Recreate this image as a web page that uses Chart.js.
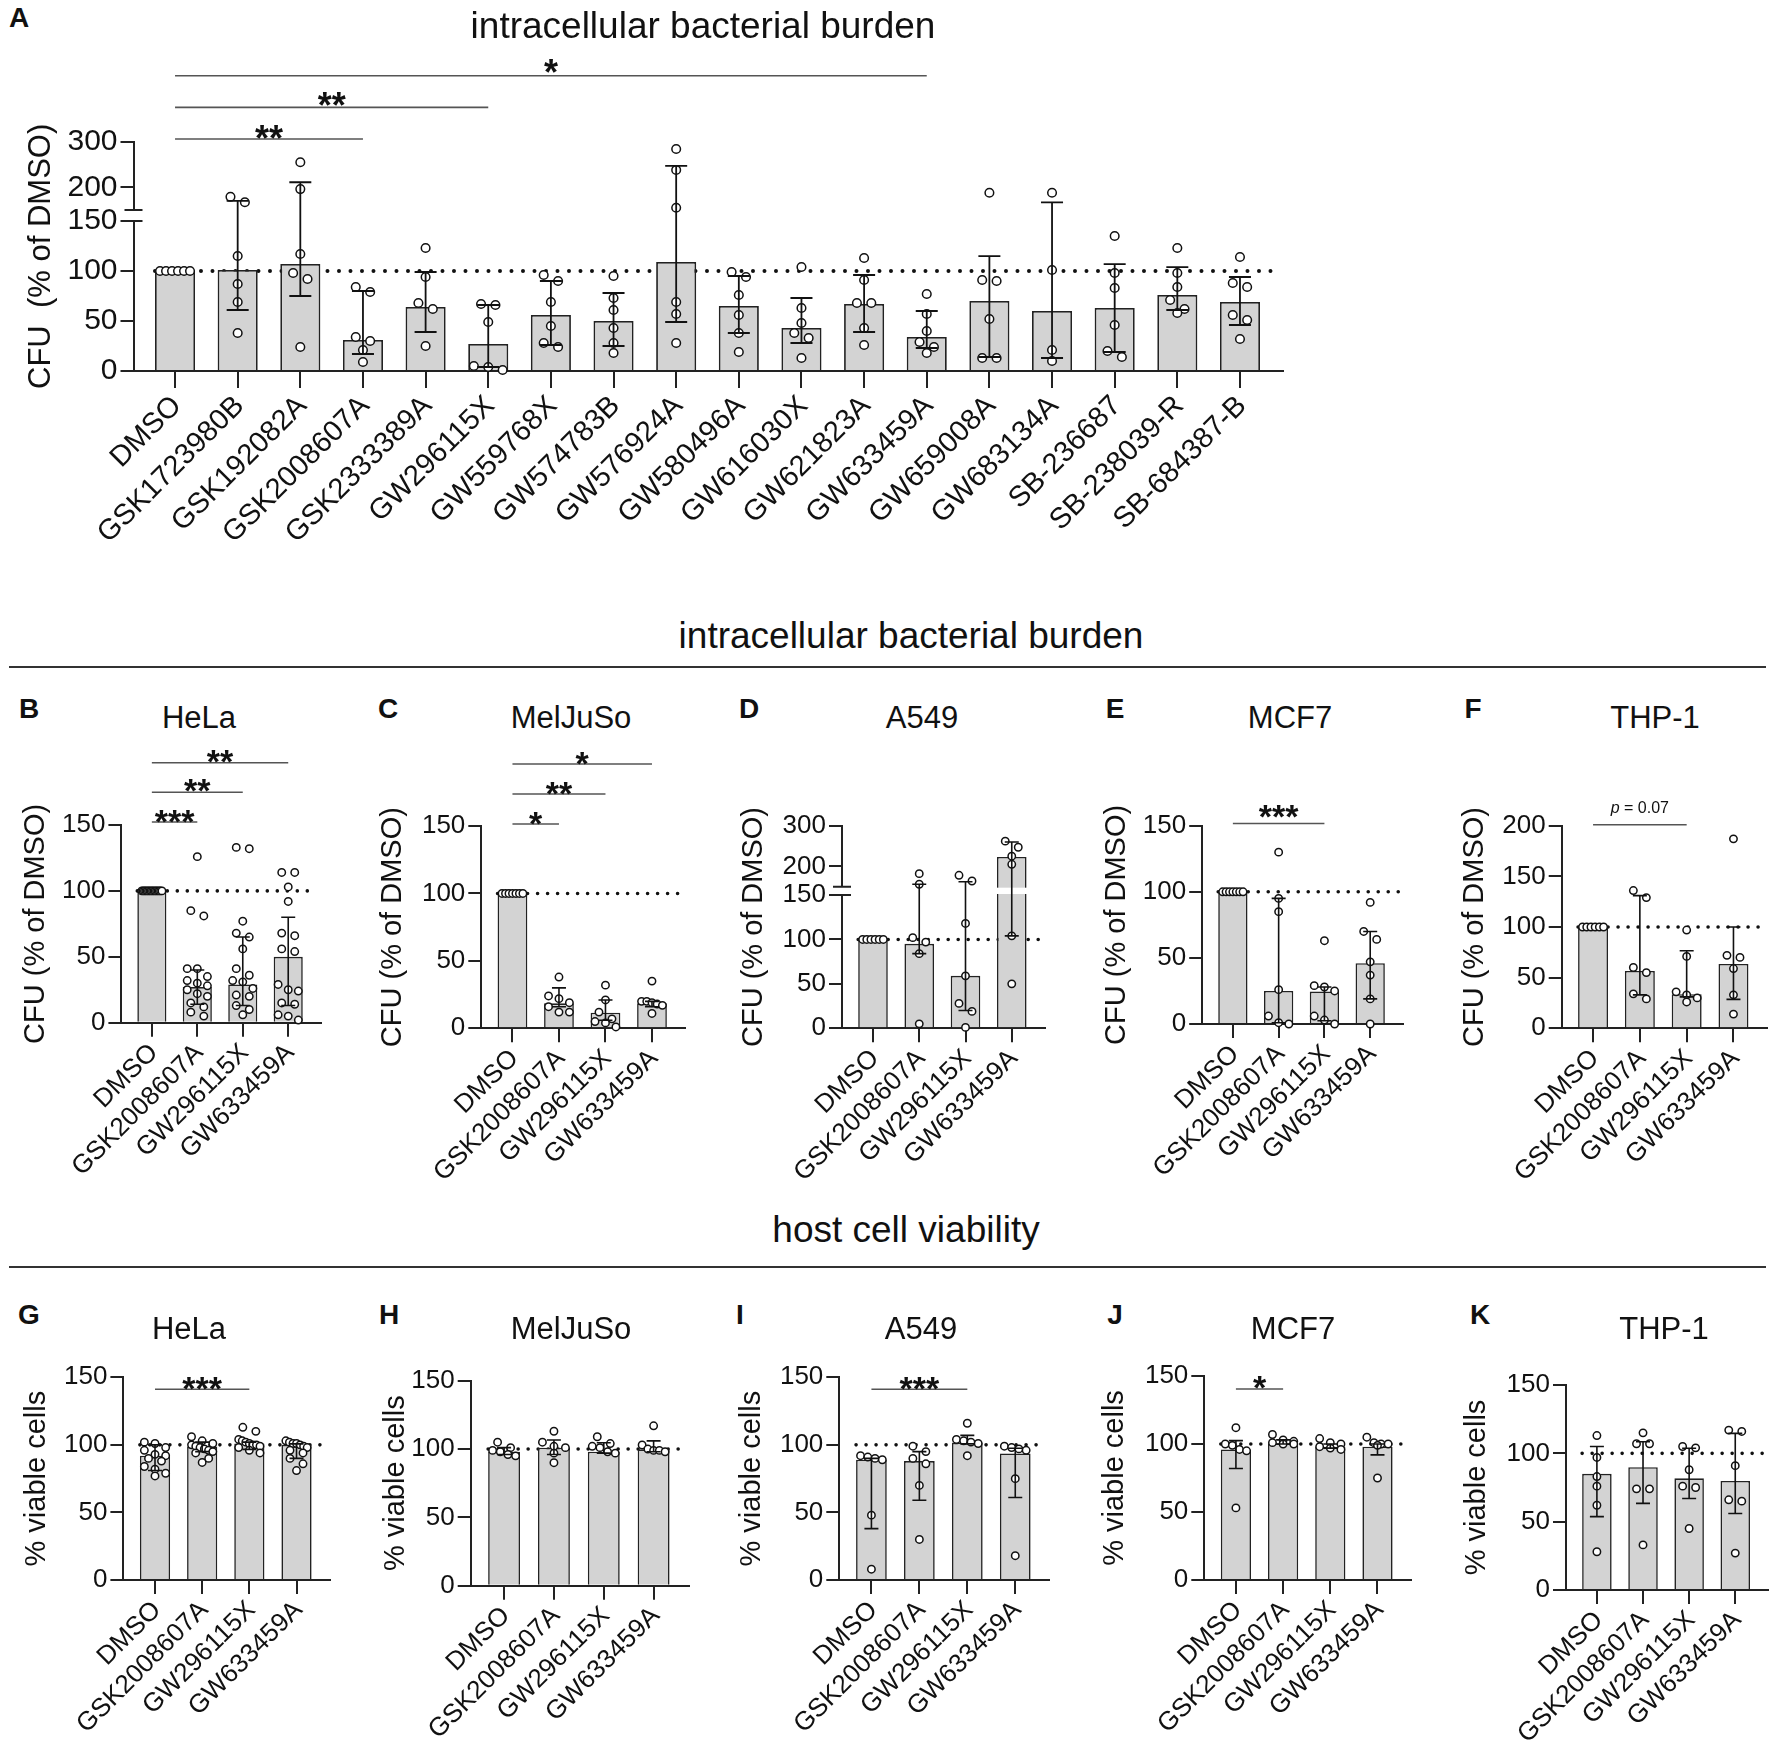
<!DOCTYPE html>
<html><head><meta charset="utf-8">
<script src="https://cdn.jsdelivr.net/npm/chart.js@4.4.1/dist/chart.umd.min.js"></script>
<style>
html,body{margin:0;padding:0;background:#fff;}
#page{position:relative;width:1772px;height:1751px;overflow:hidden;background:#fff;font-family:'Liberation Sans',Arial,Helvetica,sans-serif;color:#111;}
.t{position:absolute;transform:translate(-50%,-50%);white-space:nowrap;line-height:1;}
.rule{position:absolute;background:#333;}
canvas{position:absolute;}
</style></head><body><div id="page"></div>
<script>
// ---------------- DATA ----------------
const CATS_A = ['DMSO','GSK1723980B','GSK192082A','GSK2008607A','GSK2333389A','GW296115X','GW559768X','GW574783B','GW576924A','GW580496A','GW616030X','GW621823A','GW633459A','GW659008A','GW683134A','SB-236687','SB-238039-R','SB-684387-B'];
const CATS_CELL = ['DMSO','GSK2008607A','GW296115X','GW633459A'];

const TICKS_A = [0,50,100,150,200,300];
const TICKS_B = [0,50,100,150];
const TICKS_D = [0,50,100,150,200,300];
const TICKS_F = [0,50,100,150,200];
const TICKS_V = [0,50,100,150];

// Panel A (bars = median, whiskers = interquartile range)
const A_MED = [100,101,107,31,64,27,56,50,109,65,43,67,34,70,60,63,76,69];
const A_LO  = [100,61,75,17,39,4,26,25,49,38,28,39,23,14,13,19,61,46];
const A_HI  = [100,170,211,80,99,66,90,78,247,95,73,96,60,115,167,107,104,94];
const A_PTS = [
  [100,100,100,100,100,100],
  [179,167,115,87,69,38],
  [255,196,117,98,92,24],
  [84,79,34,30,21,9],
  [123,94,68,62,25],
  [67,66,49,5,4,1],
  [96,90,69,45,28,24],
  [95,73,61,43,28,18],
  [284,238,155,69,57,28],
  [99,94,76,56,38,19],
  [104,63,48,38,33,13],
  [113,91,68,68,43,26],
  [77,57,40,29,24,18],
  [188,91,90,52,13,13],
  [188,101,21,10],
  [135,98,83,46,20,14],
  [123,98,84,71,62,58],
  [114,88,84,56,51,32]
];

// B HeLa CFU
const B_MED = [100,27,29,50];
const B_LO  = [100,14,13,13];
const B_HI  = [100,40,65,80];
const B_PTS = [
  [100,100,100,100,100,100,100,100,100,100,100,100,100,100,100,100],
  [126,85,81,41,41,35,32,30,28,25,22,20,15,12,8,5],
  [133,132,77,68,65,56,41,36,32,31,26,21,20,13,10,6],
  [114,114,103,92,68,66,56,54,29,25,24,15,14,6,5,2]
];
// C MelJuSo CFU
const C_MED = [100,18.5,11.6,18.5];
const C_LO  = [100,16,6,16];
const C_HI  = [100,30,21,20];
const C_PTS = [
  [100,100,100,100,100,100,100],
  [38,24,22,19,16,12,12],
  [32,21,12,7,5,4,1],
  [35,20,20,19,18,17,11]
];
// D A549 CFU
const D_MED = [100,95,59,223];
const D_LO  = [100,84,20,104];
const D_HI  = [100,156,162,260];
const D_PTS = [
  [100,100,100,100,100,100],
  [182,156,102,97,84,5],
  [178,164,118,59,28,19,1],
  [262,247,225,205,104,50]
];
// E MCF7 CFU
const E_MED = [100,25,24.5,46];
const E_LO  = [100,1,2.5,19];
const E_HI  = [100,95,28,70];
const E_PTS = [
  [100,100,100,100,100,100,100],
  [130,95,85,26,6,1,0],
  [63,29,28,25,6,3,0],
  [92,70,64,47,37,19,0]
];
// F THP-1 CFU
const F_MED = [100,56.6,33.6,63.5];
const F_LO  = [100,33,31,28.6];
const F_HI  = [100,131,76.6,100];
const F_PTS = [
  [100,100,100,100,100,100],
  [136,129,60,55,34,29],
  [97,71,36,33,30,26],
  [187,72,70,59,33,14]
];
// G HeLa viability
const G_MED = [92,98.7,101,100];
const G_LO  = [81,95,96.7,90];
const G_HI  = [100,102,102,100.7];
const G_PTS = [
  [102,101,98,96,93,92,90,88,84,82,79,77],
  [106,103,101,100,99,98,97,96,95,94,90,87],
  [113,110,104,103,102,101,100,100,99,98,96,94],
  [103,102,101,101,100,99,98,96,94,90,86,81]
];
// H MelJuSo viability
const H_MED = [98,101,98,99.8];
const H_LO  = [96,96,97,98];
const H_HI  = [101,106.6,104.6,106];
const H_PTS = [
  [105,101,99,98,96,95],
  [113,105,102,101,97,90],
  [109,104,102,101,98,97],
  [117,103,100,99,99,98]
];
// I A549 viability
const I_MED = [89,88,101.7,93.7];
const I_LO  = [38,59,100.7,61];
const I_HI  = [90,95,107,97.5];
const I_PTS = [
  [92,91,90,89,48,8],
  [99,95,90,86,70,30],
  [116,104,103,102,101,92],
  [99,98,97,96,75,18]
];
// J MCF7 viability
const J_MED = [96,100.5,98,98];
const J_LO  = [82,100,97,92];
const J_HI  = [102.5,103,100,100];
const J_PTS = [
  [112,100,99,96,95,53],
  [107,103,102,101,100,100],
  [104,101,100,98,97,96],
  [105,101,100,100,99,75]
];
// K THP-1 viability
const K_MED = [85,89.8,81.7,79.8];
const K_LO  = [53.7,63.4,67,56];
const K_HI  = [105,108.5,103.7,114.6];
const K_PTS = [
  [113,97,83,76,62,28],
  [115,107,107,74,74,33],
  [105,104,88,76,75,45],
  [117,116,91,66,65,27]
];

const REF_LINE = 100;
const SIG_A = [{to:3,txt:'**'},{to:5,txt:'**'},{to:12,txt:'*'}];
const SIG_B = [{to:3,txt:'**'},{to:2,txt:'**'},{to:1,txt:'***'}];
const SIG_C = [{to:3,txt:'*'},{to:2,txt:'**'},{to:1,txt:'*'}];
const SIG_E = [{to:2,txt:'***'}];
const SIG_F = [{to:2,txt:'p = 0.07'}];
const SIG_G = [{to:2,txt:'***'}];
const SIG_I = [{to:2,txt:'***'}];
const SIG_J = [{to:1,txt:'*'}];

// ---------------- RENDERING ----------------
const FONT = "'Liberation Sans', Arial, Helvetica, sans-serif";
Chart.defaults.font.family = FONT;
Chart.defaults.color = '#111';
Chart.defaults.animation = false;

class BrokenScale extends Chart.LinearScale {
  _seg() {
    const b = this.options.brk;
    const H = this.bottom - this.top;
    const lo = H * b.lowFrac, gap = H * b.gapFrac;
    return {b: b.value, lo, gap, up: H - lo - gap};
  }
  getPixelForValue(v) {
    if (v === null || v === undefined || isNaN(v)) return NaN;
    const s = this._seg();
    if (v <= s.b) return this.bottom - (v - this.min) / (s.b - this.min) * s.lo;
    return this.bottom - s.lo - s.gap - (v - s.b) / (this.max - s.b) * s.up;
  }
  getValueForPixel(p) {
    const s = this._seg();
    const d = this.bottom - p;
    if (d <= s.lo) return this.min + d / s.lo * (s.b - this.min);
    return s.b + Math.max(0, d - s.lo - s.gap) / s.up * (this.max - s.b);
  }
}
BrokenScale.id = 'broken';
BrokenScale.defaults = {};
Chart.register(BrokenScale);

const page = document.getElementById('page');
function addText(s, x, y, size, weight) {
  const d = document.createElement('div');
  d.className = 't';
  d.textContent = s;
  d.style.left = x + 'px'; d.style.top = y + 'px';
  d.style.fontSize = size + 'px';
  if (weight) d.style.fontWeight = weight;
  page.appendChild(d);
}
function addRule(x, y, w) {
  const d = document.createElement('div');
  d.className = 'rule';
  d.style.left = x + 'px'; d.style.top = (y - 1) + 'px';
  d.style.width = w + 'px'; d.style.height = '2.2px';
  page.appendChild(d);
}

const SMALL = {yTitleFont:29, yTickFont:26, xFont:26, xShift:2, yTickLen:13, xTickLen:14, barPct:0.64, r:3.7, cap:14, starFont:34, dotW:3.6, dotGap:10, xmin:-0.67, xmax:3.71, pairGap:13, barBorder:1.6, errW:1.6};
const CFU = 'CFU (% of DMSO)', VIA = '% viable cells';

const PANELS = [
  {cats:CATS_A, med:A_MED, lo:A_LO, hi:A_HI, pts:A_PTS, ticks:TICKS_A, sig:SIG_A, yTitle:'CFU  (% of DMSO)', brk:{value:150, lowFrac:0.654, gapFrac:0.048},
   cl:0, ct:40, cr:1300, cb:580, L:133.5, R:1283, T:141.7, B:371, xmin:-0.663, xmax:17.687, ytc:41,
   yTitleFont:31, yTickFont:30, xFont:29, xShift:2, yTickLen:13, xTickLen:17, barPct:0.64, r:4.3, cap:22, starFont:36,
   sigY:[139,107.4,75.7], sigTY:[130,97.2,64.4], dotW:4, dotGap:11.5, pairGap:14.4, barBorder:1.8, errW:1.8},
  Object.assign({}, SMALL, {cats:CATS_CELL, med:B_MED, lo:B_LO, hi:B_HI, pts:B_PTS, ticks:TICKS_B, sig:SIG_B, yTitle:CFU,
   cl:0, ct:740, cr:340, cb:1200, L:121.4, R:320.5, T:825, B:1022.7, ytc:35.7, sigY:[762.7,792.3,822], sigTY:[753.3,782.7,813.3]}),
  Object.assign({}, SMALL, {cats:CATS_CELL, med:C_MED, lo:C_LO, hi:C_HI, pts:C_PTS, ticks:TICKS_B, sig:SIG_C, yTitle:CFU,
   cl:360, ct:740, cr:700, cb:1200, L:481.3, R:685, T:826, B:1028.3, ytc:393, sigY:[764,794,824], sigTY:[755,785,815]}),
  Object.assign({}, SMALL, {cats:CATS_CELL, med:D_MED, lo:D_LO, hi:D_HI, pts:D_PTS, ticks:TICKS_D, sig:[], yTitle:CFU, brk:{value:150, lowFrac:0.658, gapFrac:0.041},
   cl:720, ct:740, cr:1060, cb:1200, L:842, R:1044.6, T:825.7, B:1028.3, ytc:753.6, sigY:[], sigTY:[]}),
  Object.assign({}, SMALL, {cats:CATS_CELL, med:E_MED, lo:E_LO, hi:E_HI, pts:E_PTS, ticks:TICKS_B, sig:SIG_E, yTitle:CFU,
   cl:1080, ct:740, cr:1420, cb:1200, L:1202.2, R:1402.7, T:825.7, B:1024, ytc:1117, sigY:[823.5], sigTY:[808.3]}),
  Object.assign({}, SMALL, {cats:CATS_CELL, med:F_MED, lo:F_LO, hi:F_HI, pts:F_PTS, ticks:TICKS_F, sig:SIG_F, yTitle:CFU,
   cl:1440, ct:740, cr:1772, cb:1200, L:1561.7, R:1766.7, T:825.7, B:1028.3, ytc:1475, sigY:[824.7], sigTY:[808.3]}),
  Object.assign({}, SMALL, {cats:CATS_CELL, med:G_MED, lo:G_LO, hi:G_HI, pts:G_PTS, ticks:TICKS_V, sig:SIG_G, yTitle:VIA,
   cl:0, ct:1345, cr:345, cb:1751, L:123.4, R:330, T:1377.3, B:1580, ytc:37, sigY:[1389.3], sigTY:[1380.7]}),
  Object.assign({}, SMALL, {cats:CATS_CELL, med:H_MED, lo:H_LO, hi:H_HI, pts:H_PTS, ticks:TICKS_V, sig:[], yTitle:VIA,
   cl:355, ct:1345, cr:705, cb:1751, L:470.7, R:689, T:1380.7, B:1585.7, ytc:396, sigY:[], sigTY:[]}),
  Object.assign({}, SMALL, {cats:CATS_CELL, med:I_MED, lo:I_LO, hi:I_HI, pts:I_PTS, ticks:TICKS_V, sig:SIG_I, yTitle:VIA,
   cl:720, ct:1345, cr:1065, cb:1751, L:839.3, R:1049.3, T:1377.3, B:1580, ytc:752, sigY:[1389.3], sigTY:[1380.7]}),
  Object.assign({}, SMALL, {cats:CATS_CELL, med:J_MED, lo:J_LO, hi:J_HI, pts:J_PTS, ticks:TICKS_V, sig:SIG_J, yTitle:VIA,
   cl:1080, ct:1345, cr:1425, cb:1751, L:1204.3, R:1411, T:1376, B:1580, ytc:1115, sigY:[1389], sigTY:[1379.3]}),
  Object.assign({}, SMALL, {cats:CATS_CELL, med:K_MED, lo:K_LO, hi:K_HI, pts:K_PTS, ticks:TICKS_V, sig:[], yTitle:VIA,
   cl:1440, ct:1345, cr:1772, cb:1751, L:1566, R:1768, T:1385, B:1590, ytc:1477, sigY:[], sigTY:[]})
];

function makePanel(p) {
  const cv = document.createElement('canvas');
  const w = Math.round(p.cr - p.cl), h = Math.round(p.cb - p.ct);
  cv.width = w; cv.height = h;
  cv.style.left = p.cl + 'px'; cv.style.top = p.ct + 'px';
  cv.style.width = w + 'px'; cv.style.height = h + 'px';
  page.appendChild(cv);

  const deco = {
    id: 'deco',
    beforeDatasetsDraw(chart) {
      const ctx = chart.ctx, ys = chart.scales.y;
      const bars = chart.getDatasetMeta(0).data;
      // dotted reference line (behind bars)
      const y = ys.getPixelForValue(REF_LINE);
      ctx.save();
      ctx.strokeStyle = '#111'; ctx.lineWidth = p.dotW; ctx.lineCap = 'round';
      ctx.setLineDash([0, p.dotGap]);
      ctx.beginPath();
      ctx.moveTo(bars[0].x - bars[0].width / 2, y);
      ctx.lineTo(chart.chartArea.right - 4, y);
      ctx.stroke();
      ctx.restore();
      // spread overlapping points horizontally
      const pm = chart.getDatasetMeta(1);
      const raw = chart.data.datasets[1].data;
      const groups = {};
      pm.data.forEach((el, k) => {
        if (el.$ox === undefined) el.$ox = el.x;
        (groups[raw[k].x] = groups[raw[k].x] || []).push(el);
      });
      const d = 2 * p.r + 1.5;
      Object.keys(groups).forEach(ci => {
        const els = groups[ci];
        const bw = bars[ci].width;
        els.sort((a, b) => a.y - b.y);
        let i = 0;
        while (i < els.length) {
          let j = i + 1;
          while (j < els.length && els[j].y - els[i].y < d * 0.9) j++;
          const k = j - i;
          const s = k > 1 ? Math.min(p.pairGap, (bw - d) / (k - 1)) : 0;
          for (let m = 0; m < k; m++) els[i + m].x = els[i + m].$ox + (m - (k - 1) / 2) * s;
          i = j;
        }
      });
    },
    afterDatasetDraw(chart, args) {
      if (args.index !== 0 || !p.brk) return;
      // white gap through bars that cross the axis break
      const ctx = chart.ctx, ys = chart.scales.y;
      const s = ys._seg();
      const yTop = ys.bottom - s.lo - s.gap, yBot = ys.bottom - s.lo;
      const bars = chart.getDatasetMeta(0).data;
      ctx.save();
      ctx.fillStyle = '#fff';
      p.med.forEach((m, i) => {
        if (m > p.brk.value) {
          const b = bars[i];
          ctx.fillRect(b.x - b.width / 2 - 2, yTop + 1, b.width + 4, yBot - yTop - 2);
        }
      });
      ctx.restore();
    },
    afterDatasetsDraw(chart) {
      const ctx = chart.ctx, xs = chart.scales.x, ys = chart.scales.y;
      ctx.save();
      // median + interquartile range whiskers
      ctx.strokeStyle = '#111'; ctx.lineWidth = p.errW;
      p.med.forEach((m, i) => {
        const lo = p.lo[i], hi = p.hi[i];
        if (lo === hi) return;
        const x = xs.getPixelForValue(i);
        const yl = ys.getPixelForValue(lo), yh = ys.getPixelForValue(hi);
        ctx.beginPath();
        ctx.moveTo(x, yl); ctx.lineTo(x, yh);
        ctx.moveTo(x - p.cap / 2, yl); ctx.lineTo(x + p.cap / 2, yl);
        ctx.moveTo(x - p.cap / 2, yh); ctx.lineTo(x + p.cap / 2, yh);
        ctx.stroke();
      });
      if (p.brk) {
        const s = ys._seg();
        const yTop = ys.bottom - s.lo - s.gap, yBot = ys.bottom - s.lo;
        const x = chart.chartArea.left;
        ctx.fillStyle = '#fff';
        ctx.fillRect(x - 4, yTop, 8, yBot - yTop);
        ctx.strokeStyle = '#222'; ctx.lineWidth = 2;
        ctx.beginPath();
        ctx.moveTo(x - 9, yTop); ctx.lineTo(x + 9, yTop);
        ctx.moveTo(x - 9, yBot); ctx.lineTo(x + 9, yBot);
        ctx.stroke();
      }
      ctx.restore();
    },
    afterDraw(chart) {
      const ctx = chart.ctx, xs = chart.scales.x;
      ctx.save();
      p.sig.forEach((sg, k) => {
        const x0 = xs.getPixelForValue(0), x1 = xs.getPixelForValue(sg.to);
        const y = p.sigY[k] - p.ct, ty = p.sigTY[k] - p.ct;
        ctx.strokeStyle = '#555'; ctx.lineWidth = 1.6;
        ctx.beginPath(); ctx.moveTo(x0, y); ctx.lineTo(x1, y); ctx.stroke();
        ctx.fillStyle = '#111';
        const cx = (x0 + x1) / 2;
        if (sg.txt.startsWith('p ')) {
          const fs = 16;
          ctx.font = 'italic ' + fs + 'px ' + FONT;
          const w1 = ctx.measureText('p').width;
          ctx.font = fs + 'px ' + FONT;
          const rest = sg.txt.slice(1);
          const w2 = ctx.measureText(rest).width;
          const st = cx - (w1 + w2) / 2;
          ctx.textAlign = 'left'; ctx.textBaseline = 'middle';
          ctx.font = 'italic ' + fs + 'px ' + FONT;
          ctx.fillText('p', st, ty);
          ctx.font = fs + 'px ' + FONT;
          ctx.fillText(rest, st + w1, ty);
        } else {
          ctx.font = 'bold ' + p.starFont + 'px ' + FONT;
          ctx.textAlign = 'center'; ctx.textBaseline = 'alphabetic';
          ctx.fillText(sg.txt, cx, ty + 0.58 * p.starFont);
        }
      });
      ctx.restore();
    }
  };

  const yOpts = {
    type: p.brk ? 'broken' : 'linear',
    min: 0, max: p.ticks[p.ticks.length - 1],
    afterBuildTicks: s => { s.ticks = p.ticks.map(v => ({value: v})); },
    afterFit: s => { s.width = p.L - p.cl; },
    ticks: {autoSkip: false, font: {size: p.yTickFont}, color: '#111', padding: 3, callback: v => String(v)},
    grid: {display: true, drawOnChartArea: false, drawTicks: true, tickLength: p.yTickLen, tickWidth: 2, tickColor: '#222', color: '#222', lineWidth: 2},
    border: {display: true, color: '#222', width: 2},
    title: {display: true, text: p.yTitle, color: '#111', font: {size: p.yTitleFont, lineHeight: 1.2},
            padding: {top: p.ytc - p.cl - 0.6 * p.yTitleFont, bottom: 0}}
  };
  if (p.brk) yOpts.brk = p.brk;

  new Chart(cv, {
    type: 'bar',
    data: {
      datasets: [
        {type: 'bar', data: p.med.map((v, i) => ({x: i, y: v})), backgroundColor: '#d3d3d3', borderColor: '#222',
         borderWidth: p.barBorder, barPercentage: p.barPct, categoryPercentage: 1, order: 2, clip: false},
        {type: 'scatter', data: p.pts.flatMap((arr, i) => arr.map(v => ({x: i, y: v}))), showLine: false,
         pointRadius: p.r, pointHoverRadius: p.r, pointBorderWidth: 1.5, pointBackgroundColor: '#fff',
         pointBorderColor: '#111', order: 1, clip: false}
      ]
    },
    options: {
      responsive: false, maintainAspectRatio: false, devicePixelRatio: 1, animation: false, events: [],
      layout: {autoPadding: false, padding: {left: 0, top: p.T - p.ct, right: p.cr - p.R, bottom: 0}},
      plugins: {legend: {display: false}, tooltip: {enabled: false}, title: {display: false}},
      scales: {
        x: {
          type: 'linear', min: p.xmin, max: p.xmax, offset: false,
          afterBuildTicks: s => { s.ticks = p.cats.map((c, i) => ({value: i})); },
          afterFit: s => { s.height = p.cb - p.B; },
          ticks: {autoSkip: false, maxRotation: 45, minRotation: 45, font: {size: p.xFont}, color: '#111', padding: 1,
                  labelOffset: p.xShift, callback: v => p.cats[v]},
          grid: {display: true, drawOnChartArea: false, drawTicks: true, tickLength: p.xTickLen, tickWidth: 2,
                 tickColor: '#222', color: '#222', lineWidth: 2, offset: false},
          border: {display: true, color: '#222', width: 2}
        },
        y: yOpts
      }
    },
    plugins: [deco]
  });
}

PANELS.forEach(makePanel);

// ---------------- TEXT & RULES ----------------
addText('A', 19, 18, 28, 'bold');
addText('intracellular bacterial burden', 703, 25, 37);
addText('intracellular bacterial burden', 911, 635, 37);
addRule(9, 667, 1757);
addText('host cell viability', 906, 1229, 37);
addRule(9, 1267, 1757);

const LET1 = [['B',29],['C',388],['D',749],['E',1115],['F',1473]];
LET1.forEach(l => addText(l[0], l[1], 709, 28, 'bold'));
const TIT1 = [['HeLa',199],['MelJuSo',571],['A549',922],['MCF7',1290],['THP-1',1655]];
TIT1.forEach(t => addText(t[0], t[1], 717, 31));
const LET2 = [['G',29],['H',389],['I',740],['J',1115],['K',1480]];
LET2.forEach(l => addText(l[0], l[1], 1315, 28, 'bold'));
const TIT2 = [['HeLa',189],['MelJuSo',571],['A549',921],['MCF7',1293],['THP-1',1664]];
TIT2.forEach(t => addText(t[0], t[1], 1328, 31));
</script>
</body></html>
